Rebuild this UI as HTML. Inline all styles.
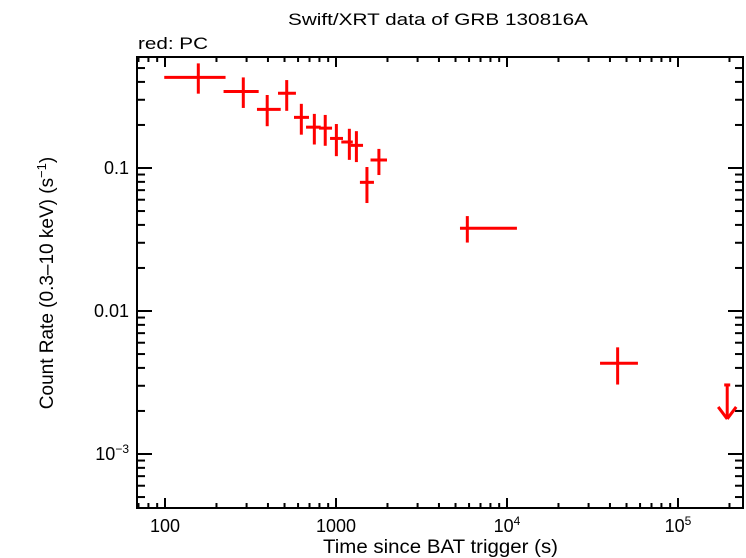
<!DOCTYPE html>
<html><head><meta charset="utf-8"><style>
body{margin:0;background:#fff;}
svg{display:block;font-family:"Liberation Sans",sans-serif;}
</style></head><body>
<svg id="chart" width="746" height="558">
<text x="288" y="25" font-size="17" textLength="300" lengthAdjust="spacingAndGlyphs">Swift/XRT data of GRB 130816A</text>
<text x="138" y="49" font-size="17" textLength="70" lengthAdjust="spacingAndGlyphs">red: PC</text>
<text x="323" y="553" font-size="19" textLength="235" lengthAdjust="spacingAndGlyphs">Time since BAT trigger (s)</text>
<text transform="translate(53,283) rotate(-90)" font-size="19" text-anchor="middle">Count Rate (0.3–10 keV) (s<tspan font-size="13" dy="-7">−1</tspan><tspan dy="7">)</tspan></text>
<g id="ticks"></g>
<g id="marks"></g>
<rect x="137" y="57" width="606" height="451" fill="none" stroke="#000" stroke-width="2"/>
</svg>
<script>
const times=[156.6,287,396,515,627,747,865,1005,1197,1316,1517,1782,5861,44360];
const timeLo=[99,220,345,458,568,668,796,923,1074,1219,1380,1592,5309,35000];
const timeHi=[226,353,475,583,695,814,948,1099,1254,1439,1667,1987,11430,58300];
const rates=[0.430,0.343,0.257,0.333,0.226,0.193,0.190,0.161,0.152,0.144,0.0794,0.1137,0.0379,0.00431];
const rateLo=[0.331,0.263,0.196,0.251,0.171,0.146,0.143,0.121,0.114,0.110,0.0569,0.0893,0.0301,0.00306];
const rateHi=[0.539,0.430,0.324,0.412,0.281,0.239,0.235,0.203,0.188,0.181,0.1016,0.136,0.0461,0.00557];
const ulTimes=[194000];
const ulRates=[0.00304];
const xTickVals=[100,1000,10000,100000];
const xTickLabels=["100","1000","10^4","10^5"];
const yTickVals=[0.1,0.01,0.001];
const yTickLabels=["0.1","0.01","10^-3"];

const X0=137,X1=743,Y0=57,Y1=508;
function xs(t){return 165+(Math.log10(t)-2)*171;}
function ys(v){return 168-(Math.log10(v)+1)*143;}
const NS="http://www.w3.org/2000/svg";
const tg=document.getElementById('ticks'),mg=document.getElementById('marks');
function line(g,x1,y1,x2,y2,c,w){const l=document.createElementNS(NS,'line');l.setAttribute('x1',x1);l.setAttribute('y1',y1);l.setAttribute('x2',x2);l.setAttribute('y2',y2);l.setAttribute('stroke',c);l.setAttribute('stroke-width',w);g.appendChild(l);return l;}
function label(x,y,s,anchor){const t=document.createElementNS(NS,'text');t.setAttribute('x',x);t.setAttribute('y',y);t.setAttribute('font-size','18');t.setAttribute('text-anchor',anchor);
 if(s.indexOf('^')>=0){const p=s.split('^');t.appendChild(document.createTextNode(p[0]));const sp=document.createElementNS(NS,'tspan');sp.setAttribute('font-size','12');sp.setAttribute('dy','-7');sp.textContent=p[1].replace('-','−');t.appendChild(sp);}else t.textContent=s;
 tg.appendChild(t);return t;}
for(let d=10;d<=1e6;d*=10){for(let m=1;m<10;m++){const v=d*m;const x=xs(v);if(x<X0+1||x>X1-1)continue;const L=m===1?10:5;
 let a=line(tg,x,Y1,x,Y1-L,'#000',2);
 a=line(tg,x,Y0,x,Y0+L,'#000',2);}}
for(let d=1e-4;d<=1;d*=10){for(let m=1;m<10;m++){const v=d*m;const y=ys(v);if(y<Y0+1||y>Y1-1)continue;const L=m===1?15:8;
 let a=line(tg,X0,y,X0+L,y,'#000',2);
 a=line(tg,X1,y,X1-L,y,'#000',2);}}
xTickVals.forEach((v,i)=>{const t=label(xs(v),532,xTickLabels[i],'middle');
 
 });
yTickVals.forEach((v,i)=>{const t=label(129,ys(v)+6,yTickLabels[i],'end');
 
 });
times.forEach((t,i)=>{const g=document.createElementNS(NS,'g');
 
 
 line(g,xs(timeLo[i]),ys(rates[i]),xs(timeHi[i]),ys(rates[i]),'#f00',3);
 line(g,xs(t),ys(rateLo[i]),xs(t),ys(rateHi[i]),'#f00',3);
 mg.appendChild(g);});
ulTimes.forEach((t,i)=>{const g=document.createElementNS(NS,'g');
 
 
 const x=xs(t),y=ys(ulRates[i]);
 line(g,x-3,y,x+3,y,'#f00',3);
 line(g,x,y,x,y+34,'#f00',3);
 line(g,x-9,y+22,x,y+34,'#f00',3);
 line(g,x+9,y+22,x,y+34,'#f00',3);
 mg.appendChild(g);});
</script>
</body></html>
